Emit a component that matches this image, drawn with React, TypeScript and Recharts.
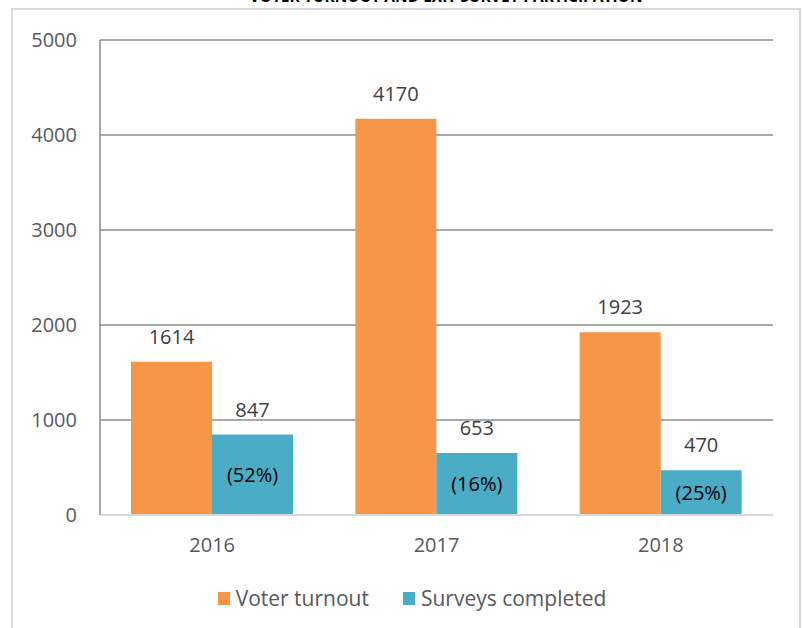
import React from 'react';
import { BarChart, Bar, XAxis, YAxis, CartesianGrid, Legend, LabelList } from 'recharts';

const years = ['2016', '2017', '2018'];
const voterTurnout = [1614, 4170, 1923];
const surveysCompleted = [847, 653, 470];
const surveyPercent = ['(52%)', '(16%)', '(25%)'];
const yTicks = [0, 1000, 2000, 3000, 4000, 5000];
const seriesOrder = ['voter', 'surveys'];
const title = 'VOTER TURNOUT AND EXIT SURVEY PARTICIPATION';

const ORANGE = '#F79646';
const TEAL = '#4BACC6';
const FONT = '"Open Sans", sans-serif';

const data = years.map((y, i) => ({
  year: y,
  voter: voterTurnout[i],
  surveys: surveysCompleted[i],
  pct: surveyPercent[i],
}));

const renderLegend = (props: any) => {
  const payload = [...(props.payload || [])].sort(
    (a: any, b: any) => seriesOrder.indexOf(a.dataKey) - seriesOrder.indexOf(b.dataKey)
  );
  return (
    <div style={{ width: '100%', display: 'flex', justifyContent: 'center', paddingLeft: 51, boxSizing: 'border-box', height: 24, alignItems: 'center', fontFamily: FONT, fontSize: 21, color: '#595959' }}>
      {payload.map((p: any, i: number) => (
        <div key={i} style={{ display: 'flex', alignItems: 'center', marginRight: i === 0 ? 34 : 0 }}>
          <span style={{ display: 'inline-block', width: 12, height: 13, background: p.color, marginRight: 6 }} />
          <span>{p.value}</span>
        </div>
      ))}
    </div>
  );
};

export default function App() {
  return (
    <div style={{ position: 'absolute', left: 0, top: 0, width: 802, height: 628, overflow: 'hidden', background: '#fff' }}>
      <div style={{ position: 'absolute', left: 11, top: 8, width: 790, height: 640, border: '2px solid #d9d9d9', boxSizing: 'border-box' }} />
      <svg style={{ position: 'absolute', left: 0, top: 0 }} width={802} height={20}>
        <text x={446} y={1.5} textAnchor="middle" fontFamily={FONT} fontWeight="bold" fontSize={15.5} fill="#000">{title}</text>
      </svg>
      <div style={{ position: 'absolute', left: 0, top: 0 }}>
        <BarChart width={802} height={628} data={data} margin={{ top: 40, right: 29, left: 0, bottom: 18 }} barCategoryGap={31} barGap={0}>
          <CartesianGrid vertical={false} stroke="#8c8c8c" strokeWidth={1.5} />
          <XAxis dataKey="year" height={71} tickLine={false} tickSize={0} tickMargin={23} axisLine={{ stroke: '#d9d9d9', strokeWidth: 2 }} tick={{ fill: '#595959', fontSize: 20, fontFamily: FONT }} />
          <YAxis width={100} domain={[0, 5000]} ticks={yTicks} tickLine={false} tickSize={0} tickMargin={23} axisLine={{ stroke: '#8c8c8c', strokeWidth: 1.5 }} tick={{ fill: '#595959', fontSize: 20, fontFamily: FONT }} />
          <Legend verticalAlign="bottom" content={renderLegend} />
          <Bar dataKey="voter" name="Voter turnout" fill={ORANGE} isAnimationActive={false}>
            <LabelList dataKey="voter" position="top" offset={18} fill="#404040" fontSize={20} fontFamily={FONT} />
          </Bar>
          <Bar dataKey="surveys" name="Surveys completed" fill={TEAL} isAnimationActive={false}>
            <LabelList dataKey="surveys" position="top" offset={18} fill="#404040" fontSize={20} fontFamily={FONT} />
            <LabelList dataKey="pct" position="center" fill="#000" fontSize={20} fontFamily={FONT} />
          </Bar>
        </BarChart>
      </div>
    </div>
  );
}
